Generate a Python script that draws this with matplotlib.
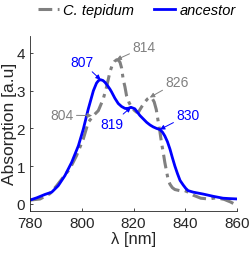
import matplotlib.pyplot as plt

plt.rcParams['font.family'] = ['Liberation Sans', 'DejaVu Sans']

# C. tepidum spectrum
wl_tep = [780, 783.9, 787.7, 790.3, 792.9, 795.4, 798, 800.6, 802.5, 804.5, 806.4, 808.3,
          809.6, 810.9, 811.8, 812.6, 813.5, 814.3, 814.8, 815.4, 816.0, 816.7, 817.3,
          818.3, 819.3, 820.3, 821.2, 822, 822.5, 823.4, 824.4, 825.4, 826.3, 827.2, 828,
          828.8, 829.5, 830.2, 830.8, 831.5, 832.1, 832.8, 833.4, 834.1, 835, 836, 837.9,
          839.8, 841.5, 843.1, 846, 849, 852, 855, 857.5, 860]
abs_tep = [0.1, 0.13, 0.27, 0.48, 0.71, 0.93, 1.28, 1.72, 2.16, 2.34, 2.47, 2.78,
           3.1, 3.5, 3.68, 3.77, 3.82, 3.8, 3.75, 3.6, 3.31, 3.1, 2.87,
           2.68, 2.56, 2.48, 2.43, 2.44, 2.5, 2.6, 2.7, 2.78, 2.82, 2.8, 2.7,
           2.5, 2.2, 1.92, 1.63, 1.36, 1.1, 0.85, 0.64, 0.52, 0.43, 0.38, 0.35,
           0.35, 0.3, 0.23, 0.15, 0.13, 0.16, 0.12, 0.05, -0.04]

# ancestor spectrum
wl_anc = [780, 782.6, 785.8, 788.4, 790.9, 793.5, 796.1, 798.7, 800.6, 802.5, 804.5, 805.7,
          806.5, 807.3, 808.2, 809, 810, 810.9, 811.5, 812.8, 814.1, 815.4, 816.7, 817.9, 819,
          820.5, 821.5, 822.5, 823.8, 825.1, 826.4, 827.6, 828.9, 830.2, 831.2, 832.1, 833.1,
          834.1, 835, 836, 837, 838, 839.2, 840.2, 841.1, 843.1, 846.9, 850.8, 854.6, 857,
          860]
abs_anc = [0.1, 0.16, 0.25, 0.31, 0.48, 0.75, 1.1, 1.54, 1.98, 2.51, 3.0, 3.2,
           3.27, 3.29, 3.27, 3.22, 3.13, 3.04, 2.97, 2.8, 2.66, 2.58, 2.53, 2.53, 2.56,
           2.52, 2.43, 2.34, 2.25, 2.16, 2.09, 2.04, 2.0, 1.97, 1.9, 1.8, 1.65,
           1.45, 1.23, 1.0, 0.8, 0.62, 0.5, 0.41, 0.35, 0.31, 0.26, 0.2, 0.15, 0.14,
           0.13]

# peak labels
tep_peaks = ['814', '826', '804']
tep_xy = [(813.4, 3.82), (826.3, 2.82), (804, 2.34)]
tep_txt = [(824, 4.15), (836.8, 3.23), (792.4, 2.35)]
anc_peaks = ['807', '819', '830']
anc_xy = [(807.3, 3.29), (819, 2.56), (830.2, 1.97)]
anc_txt = [(800, 3.76), (811.7, 2.12), (841, 2.35)]

gray = '#808080'
blue = '#0000ff'
dark = '#262626'

fig = plt.figure(figsize=(2.5, 2.55), dpi=100)
ax = fig.add_axes([0.12, 0.17, 0.828, 0.685])

ax.plot(wl_tep, abs_tep, color=gray, lw=2.2, dashes=[4.5, 1.8, 1.2, 1.8], label='C. tepidum')
ax.plot(wl_anc, abs_anc, color=blue, lw=2, label='ancestor')

for t, p, q in zip(tep_peaks, tep_xy, tep_txt):
    ax.annotate(t, xy=p, xytext=q, color=gray, fontsize=10, ha='center', va='center',
                arrowprops=dict(arrowstyle='-|>', color=gray, lw=0.7, shrinkA=0, shrinkB=0,
                                mutation_scale=7))
for t, p, q in zip(anc_peaks, anc_xy, anc_txt):
    ax.annotate(t, xy=p, xytext=q, color=blue, fontsize=10, ha='center', va='center',
                arrowprops=dict(arrowstyle='-|>', color=blue, lw=0.7, shrinkA=0, shrinkB=0,
                                mutation_scale=7))

ax.set_xlim(780, 860)
ax.set_ylim(-0.18, 4.45)
ax.set_xticks([780, 800, 820, 840, 860])
ax.set_yticks([0, 1, 2, 3, 4])
ax.tick_params(direction='in', length=2.5, labelsize=11, colors=dark, width=0.6)
for s in ['top', 'right']:
    ax.spines[s].set_visible(False)
for s in ['left', 'bottom']:
    ax.spines[s].set_color(dark)
    ax.spines[s].set_linewidth(0.6)

ax.set_xlabel('λ [nm]', fontsize=12, color=dark, labelpad=1)
ax.set_ylabel('Absorption [a.u]', fontsize=12.5, color=dark, labelpad=0)

fig.legend(loc='upper left', bbox_to_anchor=(0.15, 0.985), ncol=2, frameon=False,
           prop={'style': 'italic', 'size': 10.5}, handlelength=1.45, columnspacing=1.4,
           handletextpad=0.3, borderpad=0, borderaxespad=0)

fig.savefig('out.png', dpi=100)
